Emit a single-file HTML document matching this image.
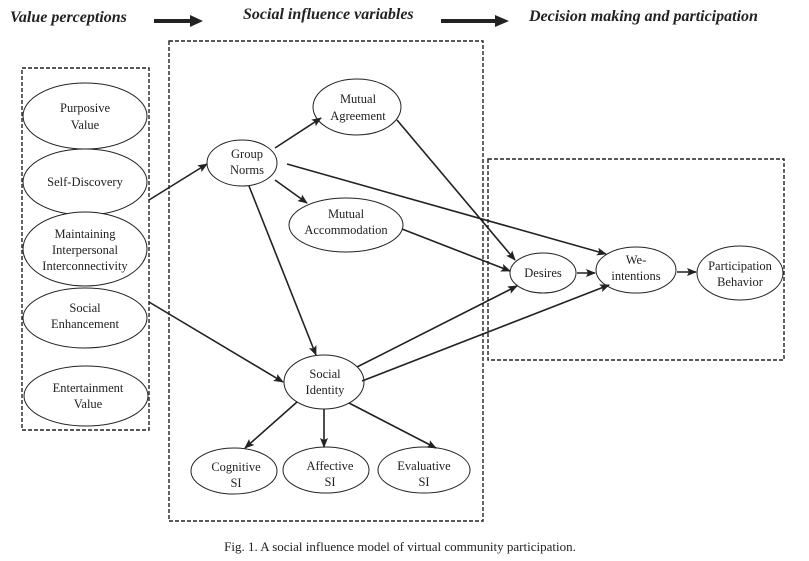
<!DOCTYPE html>
<html><head><meta charset="utf-8"><style>
html,body{margin:0;padding:0;background:#fff;}
svg{display:block;}
text{font-family:"Liberation Serif",serif;fill:#222;}
.n{font-size:12.5px;text-anchor:middle;}
.h{font-size:16px;font-weight:bold;font-style:italic;}
</style></head><body>
<svg width="809" height="561" viewBox="0 0 809 561" xmlns="http://www.w3.org/2000/svg">
<defs><marker id="a" markerWidth="10" markerHeight="10" refX="9" refY="5" orient="auto" markerUnits="userSpaceOnUse"><path d="M0,1 L10,5 L0,9 L2,5 Z" fill="#222"/></marker></defs>
<text class="h" x="10" y="22">Value perceptions</text>
<text class="h" x="243" y="19">Social influence variables</text>
<text class="h" x="529" y="21">Decision making and participation</text>
<line x1="154" y1="21" x2="192" y2="21" stroke="#222" stroke-width="4"/><path d="M190,15 L203,21 L190,27Z" fill="#222"/>
<line x1="441" y1="21" x2="497" y2="21" stroke="#222" stroke-width="4"/><path d="M495,15 L509,21 L495,27Z" fill="#222"/>
<g fill="none" stroke="#222" stroke-width="1.4" stroke-dasharray="4,2">
<rect x="22" y="68" width="127" height="362"/>
<rect x="169" y="41" width="314" height="480"/>
<rect x="488" y="159" width="296" height="201"/>
</g>
<g fill="#fff" stroke="#222" stroke-width="1">
<ellipse cx="85" cy="116" rx="62" ry="33"/>
<ellipse cx="85" cy="182" rx="62" ry="33"/>
<ellipse cx="85" cy="249" rx="62" ry="37"/>
<ellipse cx="85" cy="318" rx="62" ry="30"/>
<ellipse cx="86" cy="396" rx="62" ry="30"/>
<ellipse cx="242" cy="163" rx="35" ry="23"/>
<ellipse cx="357" cy="107" rx="44" ry="28"/>
<ellipse cx="346" cy="225" rx="57" ry="27"/>
<ellipse cx="324" cy="382" rx="40" ry="27"/>
<ellipse cx="234" cy="471" rx="43" ry="23"/>
<ellipse cx="326" cy="470" rx="43" ry="23"/>
<ellipse cx="424" cy="470" rx="46" ry="23"/>
<ellipse cx="543" cy="273" rx="33" ry="20"/>
<ellipse cx="636" cy="270" rx="40" ry="23"/>
<ellipse cx="740" cy="273" rx="43" ry="27"/>
</g>
<g stroke="#222" stroke-width="1.6" marker-end="url(#a)">
<line x1="149" y1="200" x2="207" y2="164"/>
<line x1="149" y1="302" x2="283" y2="382"/>
<line x1="275" y1="148" x2="321" y2="118"/>
<line x1="275" y1="180" x2="307" y2="203"/>
<line x1="287" y1="164" x2="606" y2="254"/>
<line x1="249" y1="186" x2="316" y2="355"/>
<line x1="397" y1="120" x2="515" y2="260"/>
<line x1="402" y1="229" x2="510" y2="271"/>
<line x1="357" y1="367" x2="517" y2="286"/>
<line x1="362" y1="381" x2="609" y2="285"/>
<line x1="297" y1="402" x2="245" y2="448"/>
<line x1="324" y1="409" x2="324" y2="447"/>
<line x1="349" y1="403" x2="436" y2="448"/>
<line x1="577" y1="273" x2="595" y2="273"/>
<line x1="677" y1="272" x2="696" y2="272"/>
</g>
<g class="n">
<text class="n" x="85" y="112">Purposive</text><text class="n" x="85" y="129">Value</text>
<text class="n" x="85" y="186">Self-Discovery</text>
<text class="n" x="85" y="238">Maintaining</text><text class="n" x="85" y="254">Interpersonal</text><text class="n" x="85" y="270">Interconnectivity</text>
<text class="n" x="85" y="312">Social</text><text class="n" x="85" y="328">Enhancement</text>
<text class="n" x="88" y="392">Entertainment</text><text class="n" x="88" y="408">Value</text>
<text class="n" x="247" y="158">Group</text><text class="n" x="247" y="174">Norms</text>
<text class="n" x="358" y="103">Mutual</text><text class="n" x="358" y="120">Agreement</text>
<text class="n" x="346" y="218">Mutual</text><text class="n" x="346" y="234">Accommodation</text>
<text class="n" x="325" y="378">Social</text><text class="n" x="325" y="394">Identity</text>
<text class="n" x="236" y="471">Cognitive</text><text class="n" x="236" y="487">SI</text>
<text class="n" x="330" y="470">Affective</text><text class="n" x="330" y="486">SI</text>
<text class="n" x="424" y="470">Evaluative</text><text class="n" x="424" y="486">SI</text>
<text class="n" x="543" y="277">Desires</text>
<text class="n" x="636" y="264">We-</text><text class="n" x="636" y="280">intentions</text>
<text class="n" x="740" y="270">Participation</text><text class="n" x="740" y="286">Behavior</text>
</g>
<text x="400" y="551" style="font-size:13px;text-anchor:middle">Fig. 1. A social influence model of virtual community participation.</text>
</svg>
</body></html>
